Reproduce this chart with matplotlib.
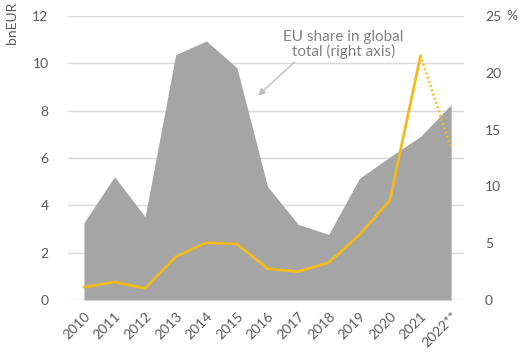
import matplotlib
matplotlib.use("Agg")
import matplotlib.pyplot as plt
import numpy as np

plt.rcParams['font.family'] = ['Lato', 'DejaVu Sans']

years = ["2010", "2011", "2012", "2013", "2014", "2015", "2016", "2017", "2018", "2019", "2020", "2021", "2022**"]
eu_share_pct = [6.8, 10.85, 7.33, 21.6, 22.8, 20.45, 10.0, 6.66, 5.78, 10.7, 12.6, 14.4, 17.2]
investment_bn = [0.54, 0.76, 0.49, 1.83, 2.42, 2.37, 1.32, 1.2, 1.58, 2.75, 4.22, 10.32, 6.42]

gray = "#A5A5A5"
yellow = "#F2BA1C"
txt = "#595959"
grid = "#D9D9D9"

fig = plt.figure(figsize=(5.30, 3.63), dpi=100)
ax = fig.add_axes([68/530, 1-300/363, (464-68)/530, (300-16)/363])
x = np.arange(len(years))

ax2 = ax.twinx()
ax2.fill_between(x, 0, eu_share_pct, color=gray, linewidth=0, zorder=2)
ax2.set_ylim(0, 25)
ax2.set_yticks([0, 5, 10, 15, 20, 25])

ax3 = ax.twinx()
ax3.set_ylim(0, 12)
ax3.axis('off')
ax3.plot(x[:-1], investment_bn[:-1], color=yellow, lw=2, solid_capstyle='round', zorder=3)
ax3.plot(x[-2:], investment_bn[-2:], color=yellow, lw=2, linestyle=(0, (0.6, 1.0)), zorder=3)

ax.set_ylim(0, 12)
ax.set_yticks(range(0, 13, 2))
ax.set_xlim(-0.52, 12.42)
ax.set_xticks(x)
ax.set_xticklabels(years, rotation=45, ha='right', va='top', rotation_mode='anchor')
ax.grid(axis='y', color=grid, lw=1)
ax.set_axisbelow(True)

for a in (ax, ax2, ax3):
    a.set_xlim(-0.52, 12.42)
    for s in a.spines.values():
        s.set_visible(False)
ax.tick_params(axis='both', length=0, colors=txt, labelsize=10)
ax.tick_params(axis='y', pad=14)
ax.tick_params(axis='x', pad=7)
ax2.tick_params(axis='y', length=0, colors=txt, labelsize=10, pad=15)

fig.text(12/530, 1-23/363, "bnEUR", rotation=90, ha='center', va='center', color=txt, fontsize=10)
fig.text(506/530, 1-16/363, "%", ha='left', va='center', color=txt, fontsize=10)

ax2.annotate("EU share in global\ntotal (right axis)", xy=(5.69, 18.0), xytext=(8.48, 21.2),
             ha='center', va='bottom', color="#808080", fontsize=11, linespacing=1.05,
             arrowprops=dict(arrowstyle='-|>', color="#BFBFBF", lw=1, shrinkA=0, shrinkB=0,
                             mutation_scale=10, relpos=(0.12, 0.0)))

fig.savefig("out.png", dpi=100)
